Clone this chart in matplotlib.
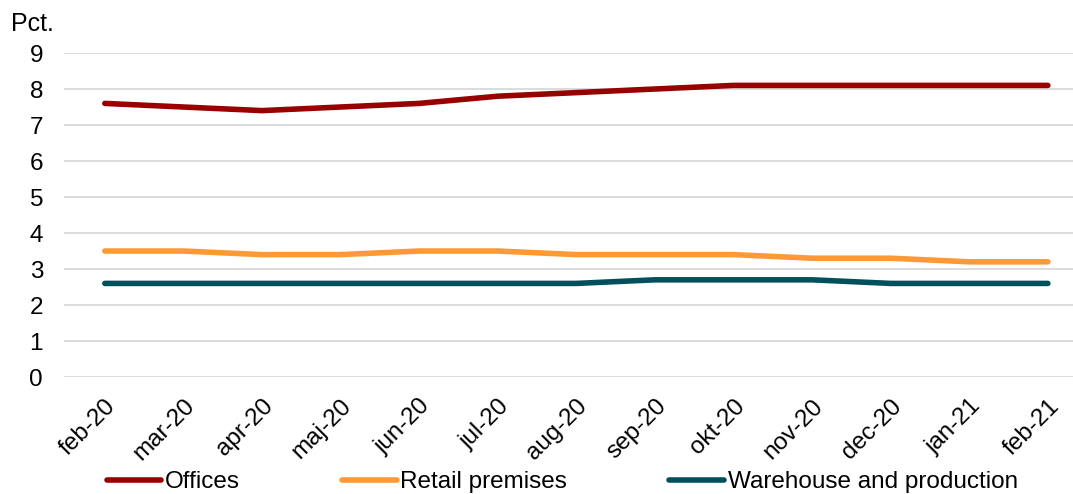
import matplotlib
matplotlib.use("Agg")
import matplotlib.pyplot as plt

plt.rcParams['font.family'] = ['Liberation Sans', 'DejaVu Sans']

months = ["feb-20", "mar-20", "apr-20", "maj-20", "jun-20", "jul-20", "aug-20",
          "sep-20", "okt-20", "nov-20", "dec-20", "jan-21", "feb-21"]
offices = [7.6, 7.5, 7.4, 7.5, 7.6, 7.8, 7.9, 8.0, 8.1, 8.1, 8.1, 8.1, 8.1]
retail = [3.5, 3.5, 3.4, 3.4, 3.5, 3.5, 3.4, 3.4, 3.4, 3.3, 3.3, 3.2, 3.2]
warehouse = [2.6, 2.6, 2.6, 2.6, 2.6, 2.6, 2.6, 2.7, 2.7, 2.7, 2.6, 2.6, 2.6]
yticks = list(range(0, 10))

fs = 17.5
fig = plt.figure(figsize=(10.73, 4.94), dpi=100)
ax = fig.add_axes([0.0596, 0.2368, 0.9404, 0.6559])

x = list(range(len(months)))
lw = 4.0
ax.plot(x, offices, color="#990000", lw=lw, solid_capstyle="round", label="Offices", zorder=3)
ax.plot(x, retail, color="#FF9933", lw=lw, solid_capstyle="round", label="Retail premises", zorder=3)
ax.plot(x, warehouse, color="#004F5C", lw=lw, solid_capstyle="round", label="Warehouse and production", zorder=3)

ax.set_ylim(0, 9)
ax.set_xlim(-0.52, 12.32)
ax.set_yticks(yticks)
ax.set_xticks(x)
ax.set_xticklabels(months, rotation=45, ha="right", rotation_mode="anchor")
ax.tick_params(axis="both", length=0, labelsize=fs, colors="black")
ax.tick_params(axis="x", pad=13)
ax.tick_params(axis="y", pad=15)

ax.grid(axis="y", color="#D9D9D9", lw=1.3, zorder=0)
for s in ax.spines.values():
    s.set_visible(False)

fig.text(0.010, 0.951, "Pct.", fontsize=18, ha="left", va="center")

leg = fig.legend(loc="center", bbox_to_anchor=(0.524, 0.024), ncol=3, frameon=False,
                 fontsize=fs, handlelength=2.25, handletextpad=0.15, columnspacing=4.2,
                 borderaxespad=0, borderpad=0)

fig.savefig("out.png", dpi=100)
